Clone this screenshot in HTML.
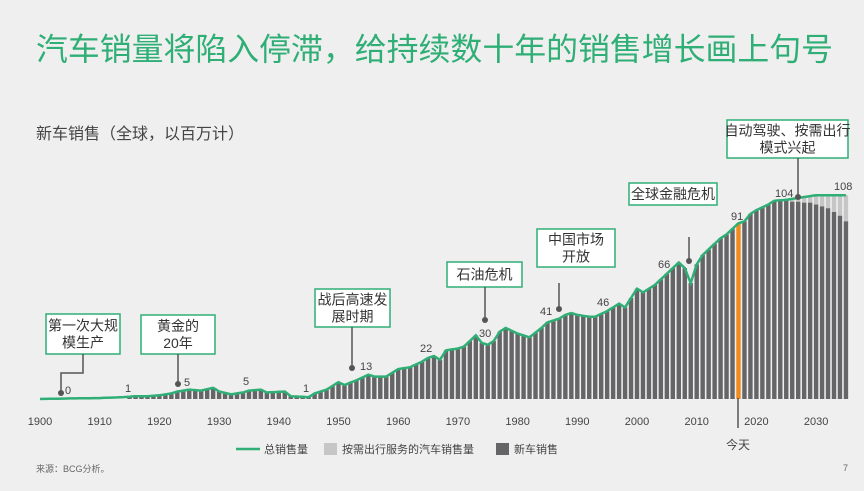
<!DOCTYPE html>
<html><head><meta charset="utf-8"><style>
body{margin:0;width:864px;height:491px;background:#efefef;overflow:hidden;font-family:"Liberation Sans","Noto Sans CJK SC",sans-serif}
svg{position:absolute;left:0;top:0}
text{font-family:"Liberation Sans","Noto Sans CJK SC",sans-serif}
</style></head><body>
<svg id="s" width="864" height="491" xmlns="http://www.w3.org/2000/svg"></svg>
<script>
const pts=[[1900,0],[1905,0.3],[1910,0.5],[1914,1],[1916,1.5],[1918,1.5],[1920,2],[1922,3],[1923,4],[1925,5],[1927,4.5],[1929,6],[1930,4],[1932,2.5],[1934,3.5],[1935,4.5],[1937,5],[1938,3.5],[1941,4],[1942,1.5],[1945,1],[1946,3],[1948,5],[1950,9],[1951,7.5],[1953,10],[1955,13],[1956,12],[1958,12],[1960,16],[1962,17],[1964,20],[1965,22],[1966,23],[1967,21],[1968,26],[1970,27],[1971,28],[1972,31],[1973,34],[1974,30],[1975,29],[1976,31],[1977,36],[1978,38],[1980,35],[1982,33],[1984,38],[1985,41],[1987,43],[1988,45],[1989,46],[1990,45],[1992,44],[1993,44],[1995,47],[1997,51],[1998,49],[1999,54],[2000,59],[2001,57],[2003,61],[2004,64],[2005,67],[2007,73],[2008,70],[2009,62],[2010,72],[2011,77],[2012,80],[2013,83],[2014,86],[2015,88],[2016,91],[2017,94],[2018,95],[2019,99],[2020,101],[2022,104],[2023,106],[2025,106.5],[2028,108],[2030,109],[2035,109]];
function tot(y){for(let i=0;i<pts.length-1;i++){const[a,va]=pts[i],[b,vb]=pts[i+1];if(y>=a&&y<=b)return va+(vb-va)*(y-a)/(b-a);}return 109}
const nw={2026:105.5,2027:105.5,2028:105,2029:105,2030:104,2031:103,2032:102,2033:100,2034:98,2035:95};
const X=y=>40+(y-1900)*5.97, B=399, K=1.87, Y=v=>B-v*K;
let h='';
for(let y=1915;y<=2035;y++){const t=tot(y),n=nw[y]??t,x=X(y)-2.2;
 if(n<t)h+=`<rect x="${x}" y="${Y(t)}" width="4.4" height="${(t-n)*K}" fill="#c6c6c6"/>`;
 h+=`<rect x="${x}" y="${Y(n)}" width="4.4" height="${n*K}" fill="${y==2017?'#f08a1c':'#656567'}"/>`;}
let d='';for(let y=1900;y<=2035;y+=0.5)d+=(d?'L':'M')+X(y).toFixed(1)+','+Y(tot(y)).toFixed(1);
h+=`<path d="${d}" fill="none" stroke="#2fae76" stroke-width="2.5"/>`;
h+=`<text x="36" y="60" font-size="31.5" fill="#2fae76" textLength="797" lengthAdjust="spacingAndGlyphs">汽车销量将陷入停滞，给持续数十年的销售增长画上句号</text>`;
h+=`<text x="36" y="139" font-size="16" fill="#444">新车销售（全球，以百万计）</text>`;
for(let y=1900;y<=2030;y+=10)h+=`<text x="${X(y)}" y="425" font-size="11" fill="#444" text-anchor="middle">${y}</text>`;
function box(x1,y1,x2,y2,lines){h+=`<rect x="${x1}" y="${y1}" width="${x2-x1}" height="${y2-y1}" fill="#fff" stroke="#2fae76" stroke-width="1.5"/>`;
 const c=(x1+x2)/2,n=lines.length,m=(y1+y2)/2;lines.forEach((l,i)=>h+=`<text x="${c}" y="${m+5+(i-(n-1)/2)*17}" font-size="14" fill="#333" text-anchor="middle">${l}</text>`);}
function ln(p){h+=`<polyline points="${p}" fill="none" stroke="#555" stroke-width="1.5"/>`}
function dot(x,y){h+=`<circle cx="${x}" cy="${y}" r="3" fill="#555"/>`}
function lab(x,y,t){h+=`<text x="${x}" y="${y}" font-size="11" fill="#444">${t}</text>`}
box(46,314,120,354,['第一次大规','模生产']);ln('83,354 83,373 61,373 61,393');dot(61,393);lab(65,394,'0');
box(141,315,215,354,['黄金的','20年']);ln('178,354 178,384');dot(178,384);lab(184,386,'5');
box(315,289,390,327,['战后高速发','展时期']);ln('352,327 352,368');dot(352,368);lab(360,370,'13');
box(447,262,522,287,['石油危机']);ln('485,287 485,320');dot(485,320);lab(479,337,'30');
box(537,229,615,267,['中国市场','开放']);ln('559,283 559,309');dot(559,309);lab(540,315,'41');
box(629,183,717,205,['全球金融危机']);ln('689,237 689,261');dot(689,261);lab(658,268,'66');
box(727,120,848,158,['自动驾驶、按需出行','模式兴起']);ln('798,158 798,197');dot(798,197);lab(775,197,'104');lab(834,190,'108');
lab(731,220,'91');lab(597,306,'46');lab(125,392,'1');lab(243,385,'5');lab(303,392,'1');lab(420,352,'22');
ln('738,398 738,428');h+=`<text x="738" y="449" font-size="12" fill="#444" text-anchor="middle">今天</text>`;
h+=`<line x1="236" y1="449" x2="260" y2="449" stroke="#2fae76" stroke-width="2.5"/><text x="264" y="453" font-size="11" fill="#444">总销售量</text>`;
h+=`<rect x="324" y="443" width="13" height="12" fill="#c6c6c6"/><text x="342" y="453" font-size="11" fill="#444">按需出行服务的汽车销售量</text>`;
h+=`<rect x="496" y="443" width="13" height="12" fill="#656567"/><text x="514" y="453" font-size="11" fill="#444">新车销售</text>`;
h+=`<text x="36" y="472" font-size="9" fill="#666">来源：BCG分析。</text><text x="843" y="471" font-size="9" fill="#666">7</text>`;
document.getElementById('s').innerHTML=h;
</script>
</body></html>
